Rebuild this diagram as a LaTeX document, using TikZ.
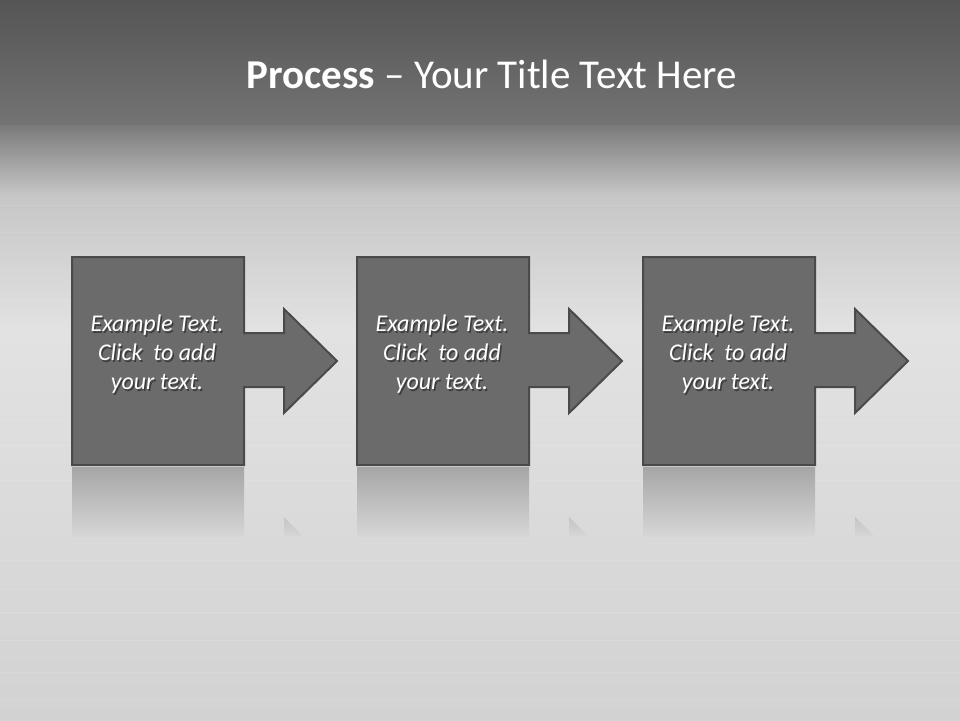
\documentclass[tikz,border=0pt]{standalone}
\usepackage{fontspec}
\setmainfont{Carlito}
\definecolor{topA}{HTML}{555555}
\definecolor{topB}{HTML}{737373}
\definecolor{bgA}{HTML}{7A7A7A}
\definecolor{bgB}{HTML}{C6C6C6}
\definecolor{bgC}{HTML}{E2E2E2}
\definecolor{bgD}{HTML}{D2D2D2}
\definecolor{boxfill}{HTML}{6B6B6B}
\definecolor{boxline}{HTML}{4A4A4A}
\definecolor{reflA}{HTML}{A6A6A6}
\definecolor{reflB}{HTML}{D6D6D6}
\definecolor{triA}{HTML}{C4C4C4}
\definecolor{shadowcol}{HTML}{3C3C3C}
\newcommand{\shline}[1]{\leavevmode\rlap{\hspace{1.5pt}\raisebox{-2pt}[0pt][0pt]{\textcolor{shadowcol}{#1}}}#1}
\tikzset{
  stepshape/.style={fill=boxfill, draw=boxline, line width=2pt, line join=miter},
  bodytext/.style={text=white, font=\fontsize{24}{29}\selectfont\itshape, align=center},
}
\newcommand{\stepath}[1]{%
  (72+#1,257) -- (244+#1,257) -- (244+#1,333) -- (284+#1,333) -- (284+#1,309) --
  (337+#1,361) -- (284+#1,413) -- (284+#1,387) -- (244+#1,387) -- (244+#1,465) --
  (72+#1,465) -- cycle}
\begin{document}
\begin{tikzpicture}[x=1pt,y=-1pt]
\useasboundingbox (0,0) rectangle (960,720);
% background
\shade[top color=topA, bottom color=topB] (0,0) rectangle (960,125);
\shade[top color=bgA, bottom color=bgB] (0,125) rectangle (960,195);
\shade[top color=bgB, bottom color=bgC] (0,195) rectangle (960,330);
\shade[top color=bgC, bottom color=bgD] (0,330) rectangle (960,720);
% brushed lines
\foreach \yy/\op in {205/0.12,232/0.1,268/0.08,300/0.1,420/0.1,445/0.12,480/0.1,560/0.12,588/0.1,612/0.14,640/0.12,672/0.1,700/0.1}{
  \fill[white, opacity=\op] (0,\yy) rectangle (960,\yy+1);
}
% title
\node[text=white, font=\fontsize{41}{48}\selectfont, anchor=base] (title) at (492,88)
  {\textbf{Process} – Your Title Text Here};
% reflections
\foreach \dx in {0,285,571}{
  \shade[top color=reflA, bottom color=reflB] (72+\dx,467) rectangle (244+\dx,536);
  \shade[top color=triA, bottom color=reflB] (284+\dx,517) -- (303+\dx,536) -- (284+\dx,536) -- cycle;
}
% steps
\foreach \dx/\nm in {0/t1,285/t2,571/t3}{
  \path[stepshape] \stepath{\dx};
  \node[bodytext] (\nm) at (157+\dx,354)
    {\shline{Example Text.}\\\shline{Click\ \ to add}\\\shline{your text.}};
}
\end{tikzpicture}
\end{document}
